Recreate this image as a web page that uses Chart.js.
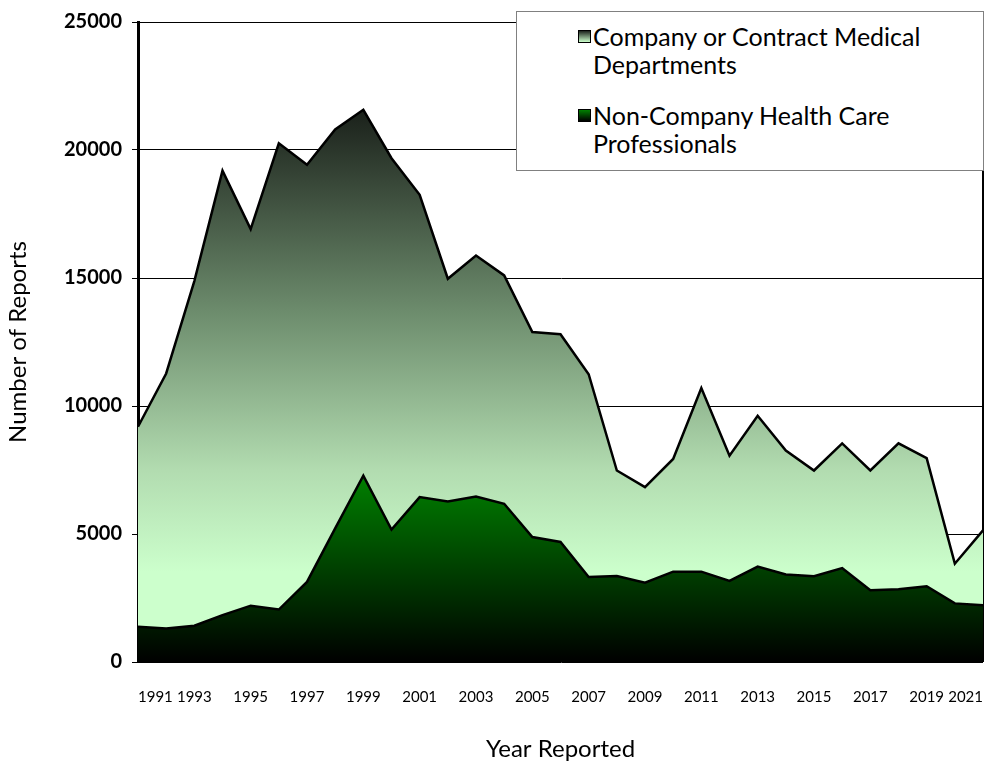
<!DOCTYPE html>
<html>
<head>
<meta charset="utf-8">
<script src="https://cdn.jsdelivr.net/npm/chart.js@4.4.1/dist/chart.umd.min.js"></script>
<style>
    body { margin: 0; background: #fff; }
    #wrap { position: relative; width: 998px; height: 768px; }
    #legend {
        position: absolute; left: 516px; top: 11px; width: 466px; height: 158px;
        background: #fff; border: 1px solid #808080;
        font-family: Lato, sans-serif; font-size: 25px; color: #000; line-height: 28px;
    }
    .lg-item { position: absolute; left: 61px; padding-left: 15px; }
    .lg-box { position: absolute; left: 0; top: 8px; width: 11px; height: 11px; border: 1px solid #000; }
</style>
</head>
<body>
<div id="wrap">
    <canvas id="chart" width="998" height="768"></canvas>
    <div id="legend">
        <div class="lg-item" style="top:10px;">
            <div class="lg-box" style="background:linear-gradient(#1c221c, #ccffcc);"></div>
            Company or Contract Medical<br>Departments
        </div>
        <div class="lg-item" style="top:89px;">
            <div class="lg-box" style="background:linear-gradient(#008000, #000);"></div>
            Non-Company Health Care<br>Professionals
        </div>
    </div>
</div>
<script>
const years = ['1991', '1992', '1993', '1994', '1995', '1996', '1997', '1998', '1999', '2000',
    '2001', '2002', '2003', '2004', '2005', '2006', '2007', '2008', '2009', '2010',
    '2011', '2012', '2013', '2014', '2015', '2016', '2017', '2018', '2019', '2020', '2021'];

// Non-company health care professionals (bottom layer)
const nonCompany = [1380, 1310, 1420, 1830, 2200, 2050, 3130, 5220, 7280, 5170,
    6440, 6270, 6460, 6180, 4880, 4690, 3320, 3360, 3100, 3530,
    3530, 3170, 3730, 3420, 3350, 3670, 2800, 2840, 2960, 2290, 2220];

// Company or contract medical departments (stacked on top)
const company = [7810, 9960, 13460, 17360, 14710, 18210, 16290, 15580, 14290, 14510,
    11810, 8700, 9420, 8920, 8010, 8110, 7920, 4120, 3730, 4400,
    7170, 4890, 5890, 4840, 4130, 4870, 4680, 5700, 5000, 1550, 2920];

const yTicks = [0, 5000, 10000, 15000, 20000, 25000];

function companyFill(ctx) {
    const chart = ctx.chart;
    if (!chart.chartArea) return '#9c9';
    const y = chart.scales.y;
    const g = chart.ctx.createLinearGradient(0, y.getPixelForValue(21600), 0, y.getPixelForValue(3500));
    g.addColorStop(0, '#1a201a');
    g.addColorStop(0.45, '#6f8f6f');
    g.addColorStop(0.78, '#b2dcb0');
    g.addColorStop(1, '#ccffcc');
    return g;
}

function nonCompanyFill(ctx) {
    const chart = ctx.chart;
    if (!chart.chartArea) return '#060';
    const y = chart.scales.y;
    const g = chart.ctx.createLinearGradient(0, y.getPixelForValue(7300), 0, y.getPixelForValue(0));
    g.addColorStop(0, '#008000');
    g.addColorStop(1, '#000000');
    return g;
}

new Chart(document.getElementById('chart'), {
    type: 'line',
    data: {
        labels: years,
        datasets: [
            {
                label: 'Non-Company Health Care Professionals',
                data: nonCompany,
                fill: 'origin',
                backgroundColor: nonCompanyFill,
                borderColor: '#000',
                borderWidth: 2.5,
                pointRadius: 0,
                tension: 0,
            },
            {
                label: 'Company or Contract Medical Departments',
                data: company,
                fill: '-1',
                backgroundColor: companyFill,
                borderColor: '#000',
                borderWidth: 2.5,
                pointRadius: 0,
                tension: 0,
            },
        ],
    },
    options: {
        responsive: false,
        animation: false,
        layout: { padding: { top: 20, right: 15, left: 0, bottom: 0 } },
        plugins: {
            legend: { display: false },
            tooltip: { enabled: false },
        },
        scales: {
            x: {
                offset: false,
                grid: {
                    drawTicks: false,
                    color: (c) => c.index === years.length - 1 ? '#000' : 'rgba(0,0,0,0)',
                    lineWidth: 2,
                },
                border: { display: false },
                ticks: {
                    autoSkip: false,
                    maxRotation: 0,
                    align: 'inner',
                    padding: 26,
                    color: '#000',
                    font: { family: 'Lato', size: 15 },
                    callback: (v, i) => i % 2 === 0 ? years[i] : '',
                },
                title: {
                    display: true,
                    text: 'Year Reported',
                    color: '#000',
                    font: { family: 'Lato', size: 24 },
                    padding: { top: 26 },
                },
                afterFit: (scale) => {
                    scale.height = 106;
                    scale.paddingLeft = 0;
                    scale.paddingRight = 0;
                },
            },
            y: {
                stacked: true,
                min: 0,
                max: 25000,
                afterBuildTicks: (scale) => { scale.ticks = yTicks.map(v => ({ value: v })); },
                grid: { color: '#000', lineWidth: 1, tickLength: 6, tickColor: '#000' },
                border: { color: '#000', width: 3 },
                ticks: {
                    color: '#000',
                    padding: 10,
                    font: { family: 'Lato', size: 20, weight: 'bold' },
                    callback: (v) => String(v),
                },
                title: {
                    display: true,
                    text: 'Number of Reports',
                    color: '#000',
                    font: { family: 'Lato', size: 24 },
                },
                afterFit: (scale) => { scale.width = 138; },
            },
        },
    },
});
</script>
</body>
</html>
